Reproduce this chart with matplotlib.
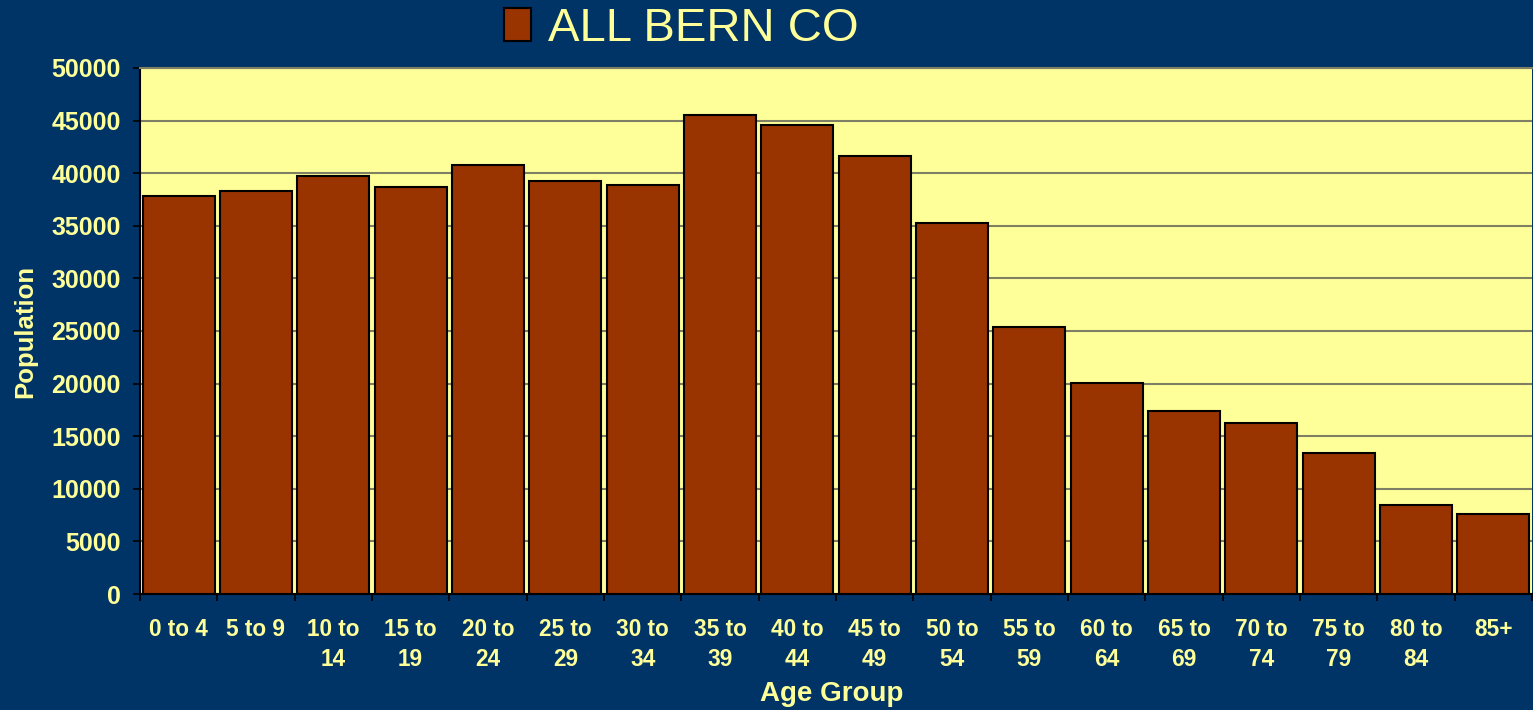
import numpy as np
import matplotlib
matplotlib.use("Agg")
import matplotlib.pyplot as plt
from matplotlib.patches import Patch

# -----------------------------
# 1. DATOS
# -----------------------------

grupos = ["0 to 4", "5 to 9", "10 to\n14", "15 to\n19", "20 to\n24", "25 to\n29",
          "30 to\n34", "35 to\n39", "40 to\n44", "45 to\n49", "50 to\n54", "55 to\n59",
          "60 to\n64", "65 to\n69", "70 to\n74", "75 to\n79", "80 to\n84", "85+"]

poblacion = [37800, 38300, 39700, 38700, 40800, 39300, 38900, 45500, 44600,
             41600, 35300, 25400, 20100, 17400, 16300, 13400, 8500, 7600]

serie = "ALL BERN CO"
yticks = [0, 5000, 10000, 15000, 20000, 25000, 30000, 35000, 40000, 45000, 50000]

# -----------------------------
# 2. COLORES
# -----------------------------

fondo = "#003366"
area = "#FFFF99"
barra = "#993300"
texto = "#FFFF99"
rejilla = "#7F7F66"

plt.rcParams["font.family"] = ["Liberation Sans", "DejaVu Sans"]

# -----------------------------
# 3. GRÁFICA
# -----------------------------

fig = plt.figure(figsize=(15.33, 7.10), dpi=100, facecolor=fondo)
ax = fig.add_axes([140 / 1533, 116 / 710, 1392 / 1533, 526 / 710])
ax.set_facecolor(area)

x = np.arange(len(grupos))
ax.bar(x, poblacion, width=0.93, color=barra, edgecolor="black", linewidth=1.5, zorder=3)

ax.set_xlim(-0.5, len(grupos) - 0.5)
ax.set_ylim(0, 50000)
ax.set_yticks(yticks)
ax.set_yticklabels([str(v) for v in yticks], fontsize=18, fontweight="bold", color=texto)
ax.yaxis.grid(True, color=rejilla, linewidth=1.5, zorder=1)

# etiquetas en el centro, marcas entre barras
ax.set_xticks(x)
ax.set_xticklabels(grupos, fontsize=16.3, fontweight="bold", color=texto, linespacing=1.42)
ax.set_xticks(np.arange(len(grupos) + 1) - 0.5, minor=True)
ax.tick_params(axis="x", which="major", length=0, pad=17)
ax.tick_params(axis="x", which="minor", length=5, width=1.2, color="black", direction="out")
ax.tick_params(axis="y", length=5, width=1.2, color="black", pad=9)

for lado in ["left", "bottom"]:
    ax.spines[lado].set_color("black")
    ax.spines[lado].set_linewidth(1.5)
ax.spines["top"].set_color(rejilla)
ax.spines["top"].set_linewidth(1.5)
ax.spines["right"].set_visible(False)

ax.set_ylabel("Population", fontsize=18.5, fontweight="bold", color=texto)
ax.yaxis.set_label_coords(-0.074, 0.5)
ax.set_xlabel("Age Group", fontsize=20, fontweight="bold", color=texto)
ax.xaxis.set_label_coords(0.497, -0.166)

# leyenda arriba
fig.legend(handles=[Patch(facecolor=barra, edgecolor="black", linewidth=1.5)],
           labels=[serie], loc="center left", bbox_to_anchor=(461 / 1533, 1 - 29 / 710),
           frameon=False, fontsize=34, labelcolor=texto,
           handlelength=0.58, handleheight=0.7, handletextpad=0.36)

fig.savefig("out.png", dpi=100, facecolor=fondo)
